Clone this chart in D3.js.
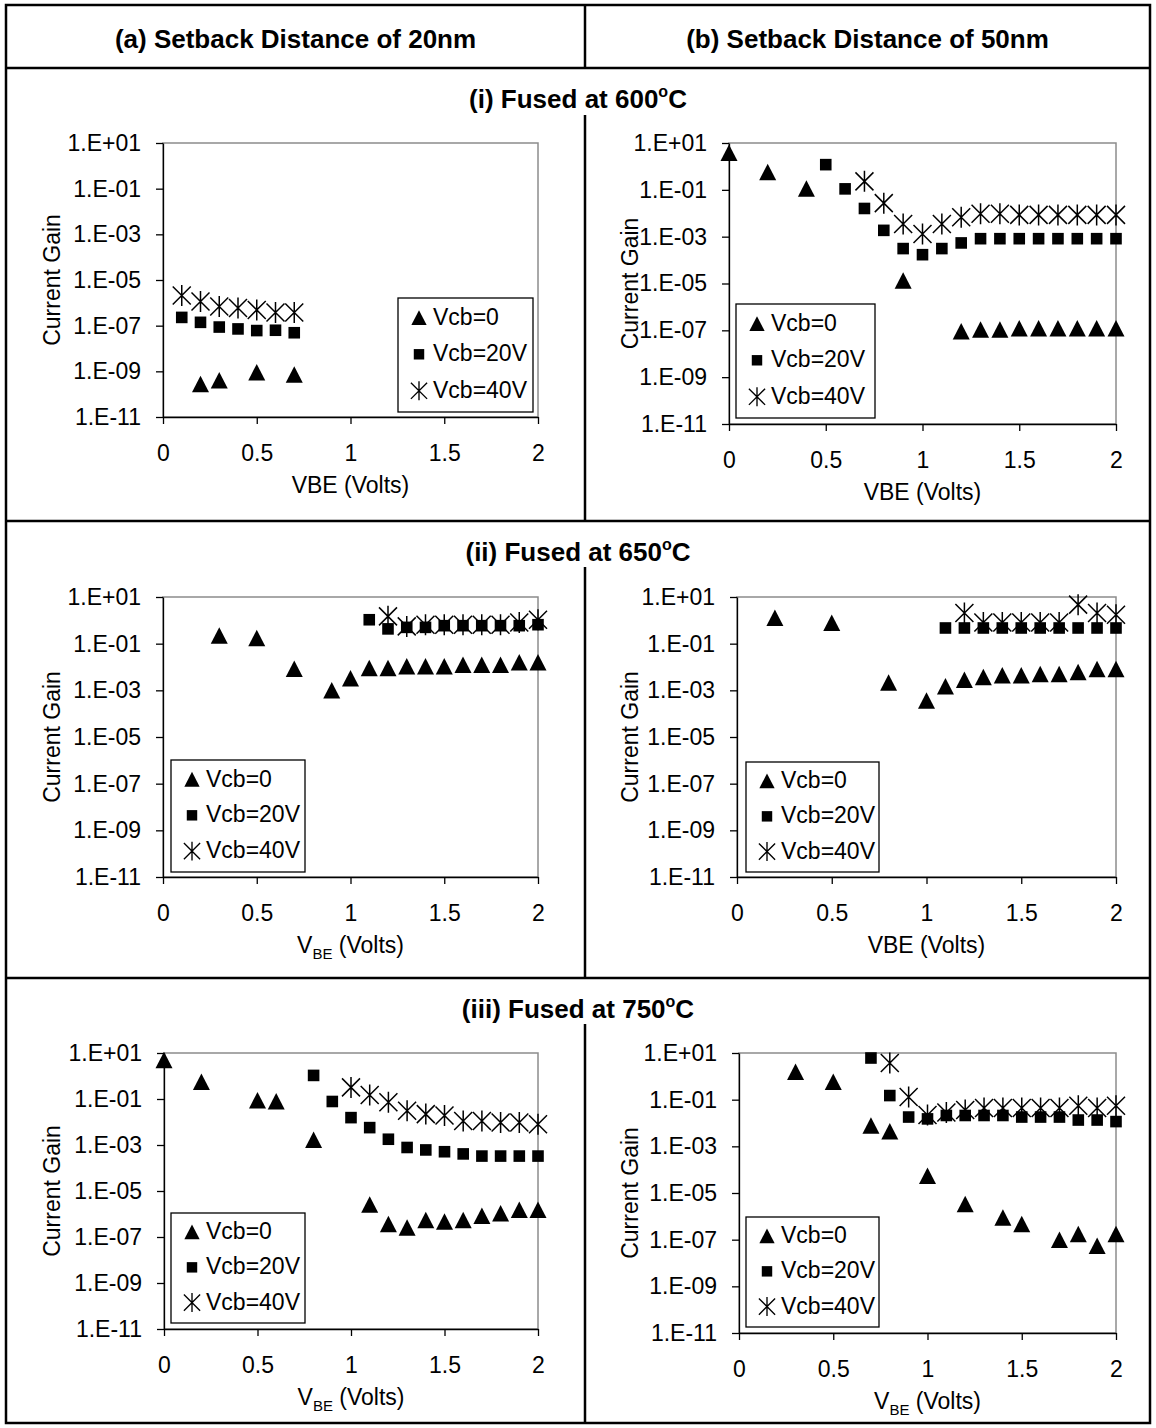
<!DOCTYPE html>
<html>
<head>
<meta charset="utf-8">
<script src="https://cdn.jsdelivr.net/npm/d3@7"></script>
<style>
  body { margin: 0; background: #fff; }
  svg { display: block; font-family: "Liberation Sans", Arial, sans-serif; }
</style>
</head>
<body>
<svg id="chart" width="1156" height="1428"></svg>
<script>
// ---------------------------------------------------------------
// Current gain vs. VBE, pairs of [VBE (V), current gain]
// ---------------------------------------------------------------

// (i) Fused at 600 °C — setback 20 nm
const f600_s20_vcb0  = [[0.2, 2.7e-10], [0.3, 4e-10], [0.5, 9e-10], [0.7, 7e-10]];
const f600_s20_vcb20 = [[0.1, 2.3e-7], [0.2, 1.4e-7], [0.3, 8.7e-8], [0.4, 7.2e-8], [0.5, 6.1e-8], [0.6, 6.3e-8], [0.7, 4.9e-8]];
const f600_s20_vcb40 = [[0.1, 2.1e-6], [0.2, 1.15e-6], [0.3, 6.9e-7], [0.4, 5.9e-7], [0.5, 4.9e-7], [0.6, 3.8e-7], [0.7, 3.8e-7]];

// (i) Fused at 600 °C — setback 50 nm
const f600_s50_vcb0  = [[0, 3.7], [0.2, 0.57], [0.4, 0.11], [0.9, 1.3e-5], [1.2, 9e-8], [1.3, 1.07e-7], [1.4, 1.07e-7], [1.5, 1.2e-7], [1.6, 1.2e-7], [1.7, 1.2e-7], [1.8, 1.2e-7], [1.9, 1.2e-7], [2.0, 1.2e-7]];
const f600_s50_vcb20 = [[0.5, 1.19], [0.6, 0.11], [0.7, 0.016], [0.8, 1.86e-3], [0.9, 3.1e-4], [1.0, 1.7e-4], [1.1, 3.1e-4], [1.2, 5.4e-4], [1.3, 8.2e-4], [1.4, 8.2e-4], [1.5, 8.2e-4], [1.6, 8.2e-4], [1.7, 8.2e-4], [1.8, 8.2e-4], [1.9, 8.2e-4], [2.0, 8.2e-4]];
const f600_s50_vcb40 = [[0.7, 0.23], [0.8, 0.027], [0.9, 3.5e-3], [1.0, 1.3e-3], [1.1, 3.5e-3], [1.2, 6.8e-3], [1.3, 9.5e-3], [1.4, 9.5e-3], [1.5, 8.5e-3], [1.6, 8.5e-3], [1.7, 8.5e-3], [1.8, 8.5e-3], [1.9, 8.5e-3], [2.0, 8.5e-3]];

// (ii) Fused at 650 °C — setback 20 nm
const f650_s20_vcb0  = [[0.3, 0.22], [0.5, 0.17], [0.7, 8.3e-3], [0.9, 9.8e-4], [1.0, 3.2e-3], [1.1, 8.9e-3], [1.2, 8.9e-3], [1.3, 0.0105], [1.4, 0.0105], [1.5, 0.0105], [1.6, 0.0123], [1.7, 0.0123], [1.8, 0.0123], [1.9, 0.0155], [2.0, 0.0155]];
const f650_s20_vcb20 = [[1.1, 1.06], [1.2, 0.43], [1.3, 0.5], [1.4, 0.5], [1.5, 0.59], [1.6, 0.59], [1.7, 0.59], [1.8, 0.59], [1.9, 0.59], [2.0, 0.65]];
const f650_s20_vcb40 = [[1.2, 1.48], [1.3, 0.55], [1.4, 0.65], [1.5, 0.65], [1.6, 0.65], [1.7, 0.65], [1.8, 0.65], [1.9, 0.81], [2.0, 1.06]];

// (ii) Fused at 650 °C — setback 50 nm
const f650_s50_vcb0  = [[0.2, 1.25], [0.5, 0.76], [0.8, 2.1e-3], [1.0, 3.6e-4], [1.1, 1.45e-3], [1.2, 2.8e-3], [1.3, 3.6e-3], [1.4, 4.3e-3], [1.5, 4.3e-3], [1.6, 4.9e-3], [1.7, 4.9e-3], [1.8, 6.0e-3], [1.9, 8.1e-3], [2.0, 8.1e-3]];
const f650_s50_vcb20 = [[1.1, 0.47], [1.2, 0.47], [1.3, 0.47], [1.4, 0.47], [1.5, 0.47], [1.6, 0.47], [1.7, 0.47], [1.8, 0.47], [1.9, 0.47], [2.0, 0.47]];
const f650_s50_vcb40 = [[1.2, 2.05], [1.3, 0.81], [1.4, 0.81], [1.5, 0.81], [1.6, 0.81], [1.7, 0.81], [1.8, 4.7], [1.9, 2.05], [2.0, 1.74]];

// (iii) Fused at 750 °C — setback 20 nm
const f750_s20_vcb0  = [[0, 4.8], [0.2, 0.55], [0.5, 0.087], [0.6, 0.078], [0.8, 1.66e-3], [1.1, 2.5e-6], [1.2, 3.6e-7], [1.3, 2.5e-7], [1.4, 5.4e-7], [1.5, 4.6e-7], [1.6, 5.4e-7], [1.7, 8.1e-7], [1.8, 1.05e-6], [1.9, 1.48e-6], [2.0, 1.48e-6]];
const f750_s20_vcb20 = [[0.8, 1.06], [0.9, 0.078], [1.0, 0.0155], [1.1, 5.7e-3], [1.2, 1.78e-3], [1.3, 7.8e-4], [1.4, 6.1e-4], [1.5, 5.1e-4], [1.6, 4.1e-4], [1.7, 3.3e-4], [1.8, 3.3e-4], [1.9, 3.3e-4], [2.0, 3.3e-4]];
const f750_s20_vcb40 = [[1.0, 0.32], [1.1, 0.15], [1.2, 0.072], [1.3, 0.031], [1.4, 0.022], [1.5, 0.019], [1.6, 0.011], [1.7, 0.011], [1.8, 9.5e-3], [1.9, 9.5e-3], [2.0, 8e-3]];

// (iii) Fused at 750 °C — setback 50 nm
const f750_s50_vcb0  = [[0.3, 1.52], [0.5, 0.57], [0.7, 7.6e-3], [0.8, 4.3e-3], [1.0, 5.4e-5], [1.2, 3.3e-6], [1.4, 8.7e-7], [1.5, 4.6e-7], [1.7, 9.6e-8], [1.8, 1.7e-7], [1.9, 5.4e-8], [2.0, 1.7e-7]];
const f750_s50_vcb20 = [[0.7, 6.1], [0.8, 0.15], [0.9, 0.018], [1.0, 0.015], [1.1, 0.021], [1.2, 0.021], [1.3, 0.021], [1.4, 0.021], [1.5, 0.018], [1.6, 0.018], [1.7, 0.018], [1.8, 0.0134], [1.9, 0.0134], [2.0, 0.0115]];
const f750_s50_vcb40 = [[0.8, 3.7], [0.9, 0.13], [1.0, 0.022], [1.1, 0.028], [1.2, 0.036], [1.3, 0.044], [1.4, 0.044], [1.5, 0.044], [1.6, 0.044], [1.7, 0.044], [1.8, 0.055], [1.9, 0.044], [2.0, 0.055]];

// Axis ticks and labels
const xTicks = [0, 0.5, 1, 1.5, 2];
const yTicks = [1e1, 1e-1, 1e-3, 1e-5, 1e-7, 1e-9, 1e-11];
const seriesNames = ["Vcb=0", "Vcb=20V", "Vcb=40V"];
const columnTitles = ["(a) Setback Distance of 20nm", "(b) Setback Distance of 50nm"];
const rowTitles = [["(i) Fused at 600", "C"], ["(ii) Fused at 650", "C"], ["(iii) Fused at 750", "C"]];

// ---------------------------------------------------------------
// Layout
// ---------------------------------------------------------------
const svg = d3.select("#chart");
const TABLE = { left: 6, right: 1150, top: 5, bottom: 1423, split: 585 };
const rowLines = [68, 521, 978];           // top of each fused-temperature row
const plotBoxes = [                        // [x0, x1, y0, y1] per panel
  [[163, 538, 143, 417], [729, 1116, 143, 424]],
  [[163, 538, 597, 877], [737, 1116, 597, 877]],
  [[164, 538, 1053, 1329], [739, 1116, 1053, 1333]]
];
const legendBoxes = [
  [[398, 298, 135, 114], [736, 304, 139, 114]],
  [[171, 760, 134, 112], [746, 762, 133, 110]],
  [[171, 1213, 134, 110], [746, 1217, 133, 110]]
];
const yTitleX = [52, 630];
const subscriptTitle = [[false, false], [true, false], [true, true]];

const panelData = [
  [[f600_s20_vcb0, f600_s20_vcb20, f600_s20_vcb40], [f600_s50_vcb0, f600_s50_vcb20, f600_s50_vcb40]],
  [[f650_s20_vcb0, f650_s20_vcb20, f650_s20_vcb40], [f650_s50_vcb0, f650_s50_vcb20, f650_s50_vcb40]],
  [[f750_s20_vcb0, f750_s20_vcb20, f750_s20_vcb40], [f750_s50_vcb0, f750_s50_vcb20, f750_s50_vcb40]]
];

// Marker shapes: filled triangle, filled square, six-armed star
const markerPath = [
  "M0,-8.5L8.5,8L-8.5,8Z",
  "M-5.8,-5.8H5.8V5.8H-5.8Z",
  "M-9,-9L9,9M-9,9L9,-9M0,-10.5V10.5"
];
function styleMarker(sel, k) {
  if (k === 2) sel.attr("fill", "none").attr("stroke", "#000").attr("stroke-width", 1.5);
  else sel.attr("fill", "#000").attr("stroke", "none");
}

const fmtE = v => {
  const e = Math.round(Math.log10(v));
  return "1.E" + (e >= 0 ? "+" : "-") + String(Math.abs(e)).padStart(2, "0");
};

const FONT_TICK = 23, FONT_TITLE = 23, FONT_LEGEND = 23, FONT_HEAD = 26;

// ---------------------------------------------------------------
// Table frame
// ---------------------------------------------------------------
const frame = svg.append("g").attr("stroke", "#000").attr("stroke-width", 2.5).attr("fill", "none");
frame.append("rect")
  .attr("x", TABLE.left).attr("y", TABLE.top)
  .attr("width", TABLE.right - TABLE.left).attr("height", TABLE.bottom - TABLE.top);
rowLines.forEach(y => frame.append("line").attr("x1", TABLE.left).attr("x2", TABLE.right).attr("y1", y).attr("y2", y));
// column divider: header cell, then below each row title
const dividerSegs = [[TABLE.top, rowLines[0]], [rowLines[0] + 47, rowLines[1]], [rowLines[1] + 46, rowLines[2]], [rowLines[2] + 46, TABLE.bottom]];
dividerSegs.forEach(([a, b]) => frame.append("line").attr("x1", TABLE.split).attr("x2", TABLE.split).attr("y1", a).attr("y2", b));

// Column headers
columnTitles.forEach((t, i) => {
  const cx = i === 0 ? (TABLE.left + TABLE.split) / 2 : (TABLE.split + TABLE.right) / 2;
  svg.append("text").attr("x", cx).attr("y", 48)
    .attr("text-anchor", "middle").attr("font-weight", "bold").attr("font-size", FONT_HEAD)
    .text(t);
});

// Row headers with superscript degree
rowTitles.forEach((t, r) => {
  const txt = svg.append("text").attr("x", (TABLE.left + TABLE.right) / 2).attr("y", rowLines[r] + 40)
    .attr("text-anchor", "middle").attr("font-weight", "bold").attr("font-size", FONT_HEAD);
  txt.append("tspan").text(t[0]);
  txt.append("tspan").attr("font-size", 16).attr("dy", -11).text("o");
  txt.append("tspan").attr("dy", 11).text(t[1]);
});

// ---------------------------------------------------------------
// Panels
// ---------------------------------------------------------------
panelData.forEach((rowSets, r) => {
  rowSets.forEach((sets, c) => {
    const [x0, x1, y0, y1] = plotBoxes[r][c];
    const x = d3.scaleLinear().domain([0, 2]).range([x0, x1]);
    const y = d3.scaleLog().domain([1e-11, 1e1]).range([y1, y0]);
    const g = svg.append("g");

    // plot-area border
    g.append("rect").attr("x", x0).attr("y", y0).attr("width", x1 - x0).attr("height", y1 - y0)
      .attr("fill", "none").attr("stroke", "#8c8c8c").attr("stroke-width", 1.5);

    // axes
    const ax = g.append("g").attr("transform", `translate(0,${y1})`)
      .call(d3.axisBottom(x).tickValues(xTicks).tickFormat(d3.format("")).tickSize(7).tickSizeOuter(0).tickPadding(21));
    const ay = g.append("g").attr("transform", `translate(${x0},0)`)
      .call(d3.axisLeft(y).tickValues(yTicks).tickFormat(fmtE).tickSize(7).tickSizeOuter(0).tickPadding(15));
    [ax, ay].forEach(a => {
      a.selectAll("path, line").attr("stroke", "#000").attr("stroke-width", 1.3);
      a.selectAll("text").attr("font-size", FONT_TICK).attr("fill", "#000")
        .attr("font-family", "'Liberation Sans', Arial, sans-serif");
    });

    // axis titles
    g.append("text")
      .attr("transform", `translate(${yTitleX[c]},${(y0 + y1) / 2}) rotate(-90)`)
      .attr("text-anchor", "middle").attr("dy", "0.35em").attr("font-size", FONT_TITLE).text("Current Gain");
    const xt = g.append("text").attr("x", (x0 + x1) / 2).attr("y", y1 + 76)
      .attr("text-anchor", "middle").attr("font-size", FONT_TITLE);
    if (subscriptTitle[r][c]) {
      xt.append("tspan").text("V");
      xt.append("tspan").attr("font-size", 15).attr("dy", 6).text("BE");
      xt.append("tspan").attr("dy", -6).text(" (Volts)");
    } else {
      xt.text("VBE (Volts)");
    }

    // data markers
    sets.forEach((pts, k) => {
      g.append("g").selectAll("path").data(pts).join("path")
        .attr("transform", d => `translate(${x(d[0])},${y(d[1])})`)
        .attr("d", markerPath[k])
        .call(styleMarker, k);
    });

    // legend
    const [lx, ly, lw, lh] = legendBoxes[r][c];
    const lg = g.append("g").attr("transform", `translate(${lx},${ly})`);
    lg.append("rect").attr("width", lw).attr("height", lh).attr("fill", "#fff").attr("stroke", "#000").attr("stroke-width", 1.3);
    seriesNames.forEach((name, k) => {
      const cy = lh * (0.165 + 0.32 * k);
      lg.append("path").attr("transform", `translate(21,${cy + 1}) scale(0.9)`).attr("d", markerPath[k]).call(styleMarker, k);
      lg.append("text").attr("x", 35).attr("y", cy).attr("dy", "0.35em").attr("font-size", FONT_LEGEND).text(name);
    });
  });
});
</script>
</body>
</html>
